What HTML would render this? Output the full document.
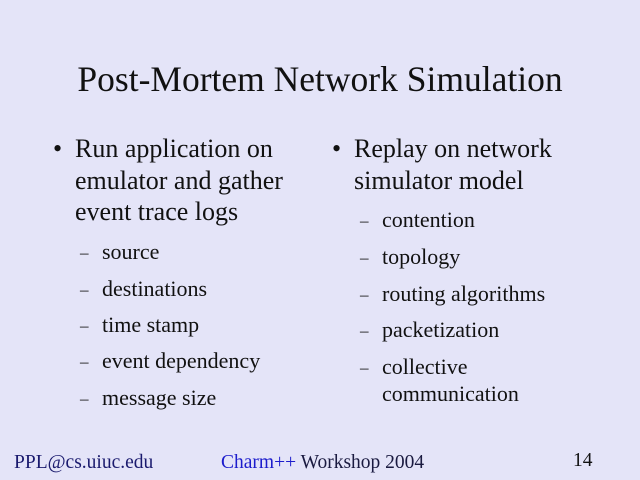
<!DOCTYPE html>
<html><head><style>
body{margin:0;width:640px;height:480px;background:#e4e4f8;font-family:"Liberation Serif","Times New Roman",Times,serif;color:#111;position:relative;overflow:hidden}
.t{position:absolute;white-space:nowrap;line-height:1}
.b{font-size:26px}.s{font-size:22px}
.d{font-size:17px}
</style></head><body>
<div class="t" style="left:0;width:640px;text-align:center;top:62px;font-size:35.5px">Post-Mortem Network Simulation</div>

<div class="t b" style="left:53px;top:136px">•</div>
<div class="t b" style="left:75px;top:136px">Run application on</div>
<div class="t b" style="left:75px;top:168px">emulator and gather</div>
<div class="t b" style="left:75px;top:199px">event trace logs</div>

<div class="t d" style="left:80px;top:244px">–</div>
<div class="t s" style="left:102px;top:241px">source</div>
<div class="t d" style="left:80px;top:281px">–</div>
<div class="t s" style="left:102px;top:278px">destinations</div>
<div class="t d" style="left:80px;top:317px">–</div>
<div class="t s" style="left:102px;top:314px">time stamp</div>
<div class="t d" style="left:80px;top:353px">–</div>
<div class="t s" style="left:102px;top:350px">event dependency</div>
<div class="t d" style="left:80px;top:390px">–</div>
<div class="t s" style="left:102px;top:387px">message size</div>

<div class="t b" style="left:332px;top:136px">•</div>
<div class="t b" style="left:354px;top:136px">Replay on network</div>
<div class="t b" style="left:354px;top:168px">simulator model</div>

<div class="t d" style="left:360px;top:212px">–</div>
<div class="t s" style="left:382px;top:209px">contention</div>
<div class="t d" style="left:360px;top:249px">–</div>
<div class="t s" style="left:382px;top:246px">topology</div>
<div class="t d" style="left:360px;top:286px">–</div>
<div class="t s" style="left:382px;top:283px">routing algorithms</div>
<div class="t d" style="left:360px;top:322px">–</div>
<div class="t s" style="left:382px;top:319px">packetization</div>
<div class="t d" style="left:360px;top:359px">–</div>
<div class="t s" style="left:382px;top:356px">collective</div>
<div class="t s" style="left:382px;top:383px">communication</div>

<div class="t" style="left:14px;top:453px;font-size:19.5px;color:#1a1a6e">PPL@cs.uiuc.edu</div>
<div class="t" style="left:221px;top:453px;font-size:19.5px"><span style="color:#1c1ccc">Charm++</span> <span style="color:#1a1a40">Workshop 2004</span></div>
<div class="t" style="left:573px;top:451px;font-size:19.5px">14</div>
</body></html>
